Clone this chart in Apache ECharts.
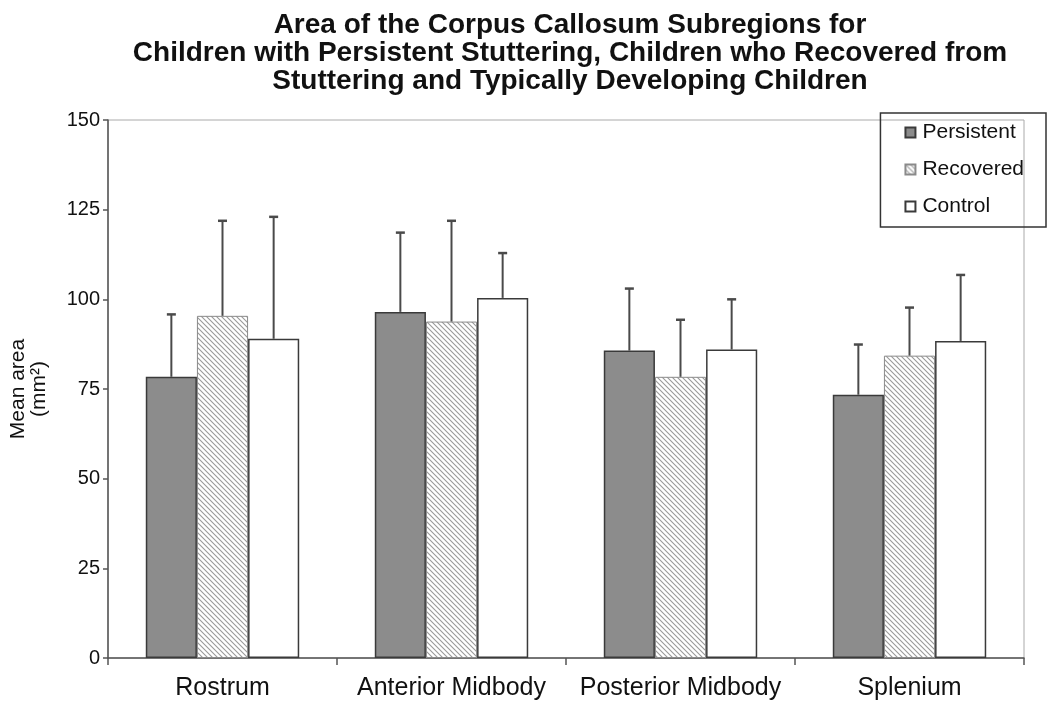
<!DOCTYPE html>
<html>
<head>
<meta charset="utf-8">
<script src="https://cdn.jsdelivr.net/npm/echarts@6/dist/echarts.min.js"></script>
<style>html,body{margin:0;padding:0;background:#fff}#c{width:1050px;height:703px}</style>
</head>
<body>
<div id="c"></div>
<script>
const categories = ['Rostrum', 'Anterior Midbody', 'Posterior Midbody', 'Splenium'];
const seriesNames = ['Persistent', 'Recovered', 'Control'];
const persistentMean = [78.4, 96.5, 85.7, 73.4];
const recoveredMean = [95.4, 93.8, 78.4, 84.3];
const controlMean = [89.0, 100.4, 86.0, 88.4];
const persistentTop = [95.8, 118.6, 103.0, 87.4];
const recoveredTop = [121.9, 121.9, 94.3, 97.7];
const controlTop = [123.0, 112.9, 100.0, 106.8];
const yTicks = [0, 25, 50, 75, 100, 125, 150];

const means = [persistentMean, recoveredMean, controlMean];
const tops = [persistentTop, recoveredTop, controlTop];

// hatch pattern
const pc = document.createElement('canvas');
pc.width = 5; pc.height = 5;
const g = pc.getContext('2d');
g.fillStyle = '#ffffff'; g.fillRect(0, 0, 5, 5);
g.strokeStyle = '#9a9a9a'; g.lineWidth = 1.1;
g.beginPath();
g.moveTo(-1, -1); g.lineTo(6, 6);
g.moveTo(-1, 4); g.lineTo(1, 6);
g.moveTo(4, -1); g.lineTo(6, 1);
g.stroke();

const catGap = 0.33;
const styles = [
  { color: '#8c8c8c', borderColor: '#3a3a3a', borderWidth: 1.5 },
  { color: { image: pc, repeat: 'repeat' }, borderColor: '#8a8a8a', borderWidth: 1 },
  { color: '#ffffff', borderColor: '#3a3a3a', borderWidth: 1.5 }
];

const series = [];
seriesNames.forEach((n, i) => {
  series.push({
    name: n, type: 'bar', data: means[i],
    barGap: '0%', barCategoryGap: (catGap * 100) + '%',
    itemStyle: styles[i], z: 2
  });
});
seriesNames.forEach((n, i) => {
  series.push({
    name: n + ' error', type: 'custom', z: 3,
    data: categories.map((c, k) => [k, means[i][k], tops[i][k]]),
    renderItem: function (params, api) {
      const k = api.value(0);
      const band = api.size([1, 0])[0];
      const bw = band * (1 - catGap) / 3;
      const base = api.coord([k, api.value(1)]);
      const top = api.coord([k, api.value(2)]);
      const x = base[0] + (i - 1) * bw;
      const st = { stroke: '#4a4a4a', lineWidth: 2 };
      return {
        type: 'group',
        children: [
          { type: 'line', shape: { x1: x, y1: base[1], x2: x, y2: top[1] }, style: st },
          { type: 'line', shape: { x1: x - 4.5, y1: top[1], x2: x + 4.5, y2: top[1] }, style: { stroke: '#4a4a4a', lineWidth: 2.5 } }
        ]
      };
    }
  });
});

const chart = echarts.init(document.getElementById('c'));
chart.setOption({
  animation: false,
  textStyle: { fontFamily: 'Liberation Sans, Arial, sans-serif' },
  title: {
    text: 'Area of the Corpus Callosum Subregions for\nChildren with Persistent Stuttering, Children who Recovered from\nStuttering and Typically Developing Children',
    left: 565, top: 6, textAlign: 'center',
    textStyle: { fontSize: 28, fontWeight: 'bold', lineHeight: 28, color: '#111', fontFamily: 'Liberation Sans, Arial, sans-serif' }
  },
  legend: {
    data: seriesNames,
    orient: 'vertical',
    right: 4, top: 113,
    borderColor: '#333', borderWidth: 1.5,
    padding: [9, 22, 10, 24],
    itemGap: 16, itemWidth: 10, itemHeight: 10,
    icon: 'rect',
    textStyle: { fontSize: 21, color: '#111', padding: [0, 0, 0, 2] }
  },
  grid: { left: 108, right: 26, top: 120, bottom: 45, show: true, borderColor: '#aaa', borderWidth: 1, containLabel: false, outerBoundsMode: 'none' },
  xAxis: {
    type: 'category', data: categories,
    axisLine: { lineStyle: { color: '#555', width: 1.5 } },
    axisTick: { show: true, interval: 0, length: 7, lineStyle: { color: '#555', width: 1.5 } },
    axisLabel: { fontSize: 25, color: '#111', margin: 18, interval: 0 }
  },
  yAxis: {
    type: 'value', min: 0, max: 150, interval: 25,
    name: 'Mean area\n(mm²)', nameLocation: 'middle', nameGap: 58, nameRotate: 90,
    nameTextStyle: { fontSize: 21, color: '#111', lineHeight: 21 },
    axisLine: { show: true, lineStyle: { color: '#555', width: 1.5 } },
    axisTick: { show: true, length: 5, lineStyle: { color: '#555', width: 1.5 } },
    splitLine: { show: false },
    axisLabel: { fontSize: 20, color: '#111', margin: 8, formatter: v => (yTicks.indexOf(v) >= 0 ? String(v) : '') }
  },
  series: series
});
</script>
</body>
</html>
